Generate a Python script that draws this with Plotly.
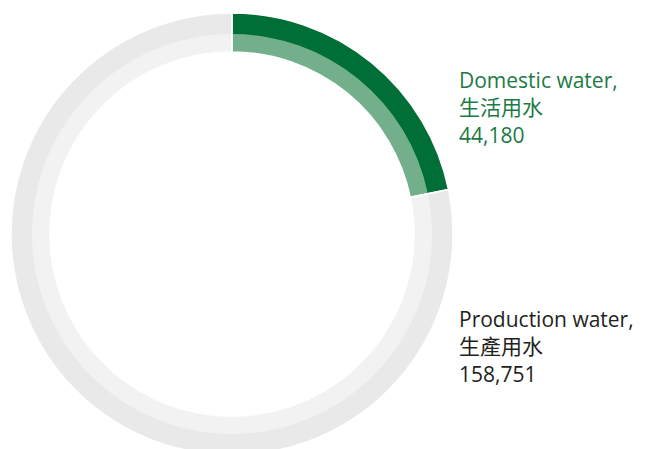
import plotly.graph_objects as go

categories = ["Domestic water", "Production water"]
labels_zh = ["生活用水", "生產用水"]
values = [44180, 158751]

W, H = 646, 449
cx, cy = 224, 226          # pixel centre within the figure
R_OUT, R_MID, R_IN = 221, 200, 182

def dom(r):
    return dict(x=[(cx - r) / W, (cx + r) / W],
                y=[max(0, (H - (cy + r)) / H), (H - (cy - r)) / H])

outer_colors = ["#006f37", "#e8e9e8"]
inner_colors = ["#73af8a", "#f2f2f2"]

common = dict(labels=categories, values=values, sort=False, direction="clockwise",
              rotation=0, textinfo="none", hoverinfo="label+value", showlegend=False)

fig = go.Figure()
fig.add_trace(go.Pie(**common, domain=dom(R_OUT), hole=(R_MID - 1) / R_OUT,
                     marker=dict(colors=outer_colors, line=dict(width=0))))
fig.add_trace(go.Pie(**common, domain=dom(R_MID), hole=R_IN / R_MID,
                     marker=dict(colors=inner_colors, line=dict(width=0))))
fig.add_trace(go.Pie(**common, domain=dom(R_OUT), hole=R_IN / R_OUT,
                     marker=dict(colors=["rgba(0,0,0,0)"] * 2,
                                 line=dict(color="white", width=1.5))))

font_family = "'Open Sans', 'Noto Sans CJK TC', sans-serif"
text_colors = ["#1b7a45", "#231f20"]
tops = [56, 295]
for i in range(2):
    fig.add_annotation(
        x=449 / W, y=1 - tops[i] / H, xref="paper", yref="paper",
        xanchor="left", yanchor="top", align="left", showarrow=False,
        text=f"{categories[i]},<br>{labels_zh[i]}<br>{values[i]:,}",
        font=dict(family=font_family, size=21, color=text_colors[i]),
    )

fig.update_layout(width=W, height=H, margin=dict(l=0, r=0, t=0, b=0),
                  paper_bgcolor="white", plot_bgcolor="white")
fig.write_html("out.html")
